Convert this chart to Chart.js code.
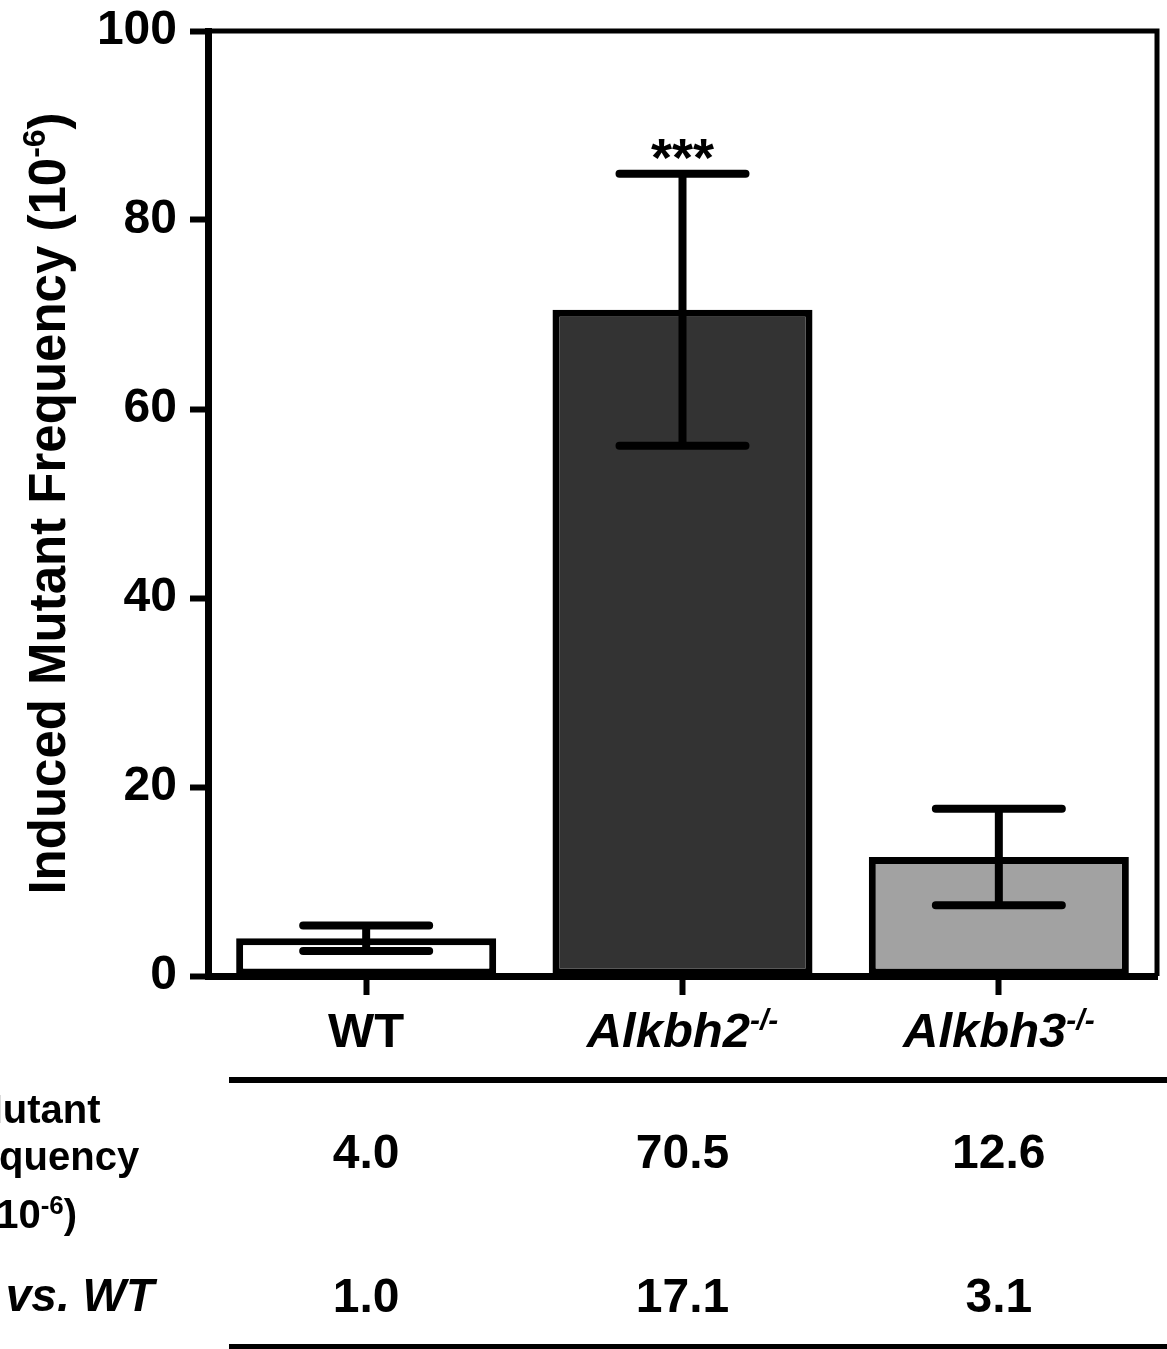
<!DOCTYPE html>
<html>
<head>
<meta charset="utf-8">
<script src="https://cdn.jsdelivr.net/npm/chart.js@4.4.1/dist/chart.umd.min.js"></script>
<style>
body { margin: 0; background: #fff; }
#wrap { width: 1167px; height: 1349px; position: relative; }
</style>
</head>
<body>
<div id="wrap"><canvas id="chart"></canvas></div>
<script>
const categories = ["WT", "Alkbh2", "Alkbh3"];
const genotypeSup = ["", "-/-", "-/-"];
const mutantFreq = [4.0, 70.5, 12.6];
const errFreq = [1.35, 14.4, 5.1];
const foldVsWT = [1.0, 17.1, 3.1];
const significance = ["", "***", ""];
const barColors = ["#ffffff", "#333333", "#a2a2a2"];

const FONT = '"Liberation Sans", Arial, Helvetica, sans-serif';

// draws a line of text made of several pieces (for superscripts / italics)
function richText(ctx, parts, x, y, align) {
    let total = 0;
    parts.forEach(p => {
        ctx.font = p.font;
        p.w = ctx.measureText(p.text).width;
        total += p.w;
    });
    let cx = align === "center" ? x - total / 2 : align === "right" ? x - total : x;
    ctx.textAlign = "left";
    ctx.textBaseline = "alphabetic";
    parts.forEach(p => {
        ctx.font = p.font;
        ctx.fillText(p.text, cx, y - (p.rise || 0));
        cx += p.w;
    });
}

const extras = {
    id: "extras",
    afterDatasetsDraw(chart) {
        const ctx = chart.ctx;
        const xs = chart.scales.x, ys = chart.scales.y;
        ctx.save();
        ctx.strokeStyle = "#000";
        ctx.fillStyle = "#000";
        ctx.lineWidth = 8;
        mutantFreq.forEach((v, i) => {
            const px = xs.getPixelForValue(i);
            const top = ys.getPixelForValue(v + errFreq[i]);
            const bot = ys.getPixelForValue(v - errFreq[i]);
            ctx.lineCap = "butt";
            ctx.beginPath();
            ctx.moveTo(px, top);
            ctx.lineTo(px, bot);
            ctx.stroke();
            ctx.lineCap = "round";
            ctx.beginPath();
            ctx.moveTo(px - 63, top); ctx.lineTo(px + 63, top);
            ctx.moveTo(px - 63, bot); ctx.lineTo(px + 63, bot);
            ctx.stroke();
            if (significance[i]) {
                ctx.font = "bold 54px " + FONT;
                ctx.textAlign = "center";
                ctx.textBaseline = "alphabetic";
                ctx.fillText(significance[i], px, top + 2);
            }
        });
        ctx.restore();
    },
    afterDraw(chart) {
        const ctx = chart.ctx;
        const xs = chart.scales.x, ys = chart.scales.y;
        const area = chart.chartArea;
        ctx.save();
        ctx.strokeStyle = "#000";
        ctx.fillStyle = "#000";

        // top and right frame
        ctx.lineWidth = 5;
        ctx.lineCap = "butt";
        ctx.beginPath();
        ctx.moveTo(area.left, area.top);
        ctx.lineTo(area.right + 2.5, area.top);
        ctx.moveTo(area.right, area.top);
        ctx.lineTo(area.right, area.bottom);
        ctx.stroke();

        // category labels
        categories.forEach((c, i) => {
            const px = xs.getPixelForValue(i);
            const parts = [];
            if (genotypeSup[i]) {
                parts.push({ text: c, font: "italic bold 49px " + FONT });
                parts.push({ text: genotypeSup[i], font: "italic bold 30px " + FONT, rise: 17 });
            } else {
                parts.push({ text: c, font: "bold 49px " + FONT });
            }
            richText(ctx, parts, px, 1047, "center");
        });

        // y axis title
        ctx.save();
        ctx.translate(65, (area.top + area.bottom) / 2);
        ctx.rotate(-Math.PI / 2);
        richText(ctx, [
            { text: "Induced Mutant Frequency (10", font: "bold 51px " + FONT },
            { text: "-6", font: "bold 32px " + FONT, rise: 20 },
            { text: ")", font: "bold 51px " + FONT }
        ], 0, 0, "center");
        ctx.restore();

        // table rules
        ctx.lineWidth = 6;
        ctx.beginPath();
        ctx.moveTo(229, 1080); ctx.lineTo(1167, 1080);
        ctx.moveTo(229, 1347); ctx.lineTo(1167, 1347);
        ctx.stroke();

        // table row labels
        const lab = "bold 40px " + FONT;
        richText(ctx, [{ text: "Mutant", font: lab }], 35, 1123, "center");
        richText(ctx, [{ text: "Frequency", font: lab }], 38, 1170, "center");
        richText(ctx, [
            { text: "(10", font: lab },
            { text: "-6", font: "bold 26px " + FONT, rise: 14 },
            { text: ")", font: lab }
        ], 30, 1228, "center");
        richText(ctx, [{ text: "vs. WT", font: "italic bold 46px " + FONT }], 154, 1311, "right");

        // table values
        mutantFreq.forEach((v, i) => {
            const px = xs.getPixelForValue(i);
            richText(ctx, [{ text: v.toFixed(1), font: "bold 48px " + FONT }], px, 1168, "center");
            richText(ctx, [{ text: foldVsWT[i].toFixed(1), font: "bold 48px " + FONT }], px, 1312, "center");
        });
        ctx.restore();
    }
};

new Chart(document.getElementById("chart"), {
    type: "bar",
    data: {
        labels: categories,
        datasets: [{
            data: mutantFreq,
            backgroundColor: barColors,
            borderColor: "#000",
            borderWidth: 7,
            borderSkipped: false,
            barPercentage: 0.822,
            categoryPercentage: 1
        }]
    },
    options: {
        responsive: true,
        maintainAspectRatio: false,
        animation: false,
        devicePixelRatio: 1,
        layout: { padding: { top: 31, right: 10, left: 0, bottom: 0 } },
        plugins: { legend: { display: false }, tooltip: { enabled: false } },
        scales: {
            x: {
                ticks: { display: false },
                grid: { offset: false, drawOnChartArea: false, drawTicks: true, tickLength: 19, tickWidth: 6, tickColor: "#000" },
                border: { display: true, color: "#000", width: 7 },
                afterFit(scale) { scale.height = 373; }
            },
            y: {
                min: 0,
                max: 100,
                ticks: { stepSize: 20, color: "#000", padding: 13, font: { family: FONT, size: 48, weight: "bold", lineHeight: 1 } },
                grid: { drawOnChartArea: false, drawTicks: true, tickLength: 18, tickWidth: 6, tickColor: "#000" },
                border: { display: true, color: "#000", width: 7 },
                afterFit(scale) {
                    scale.width = 208;
                    scale.paddingTop = 0;
                    scale.paddingBottom = 0;
                }
            }
        }
    },
    plugins: [extras]
});
</script>
</body>
</html>
